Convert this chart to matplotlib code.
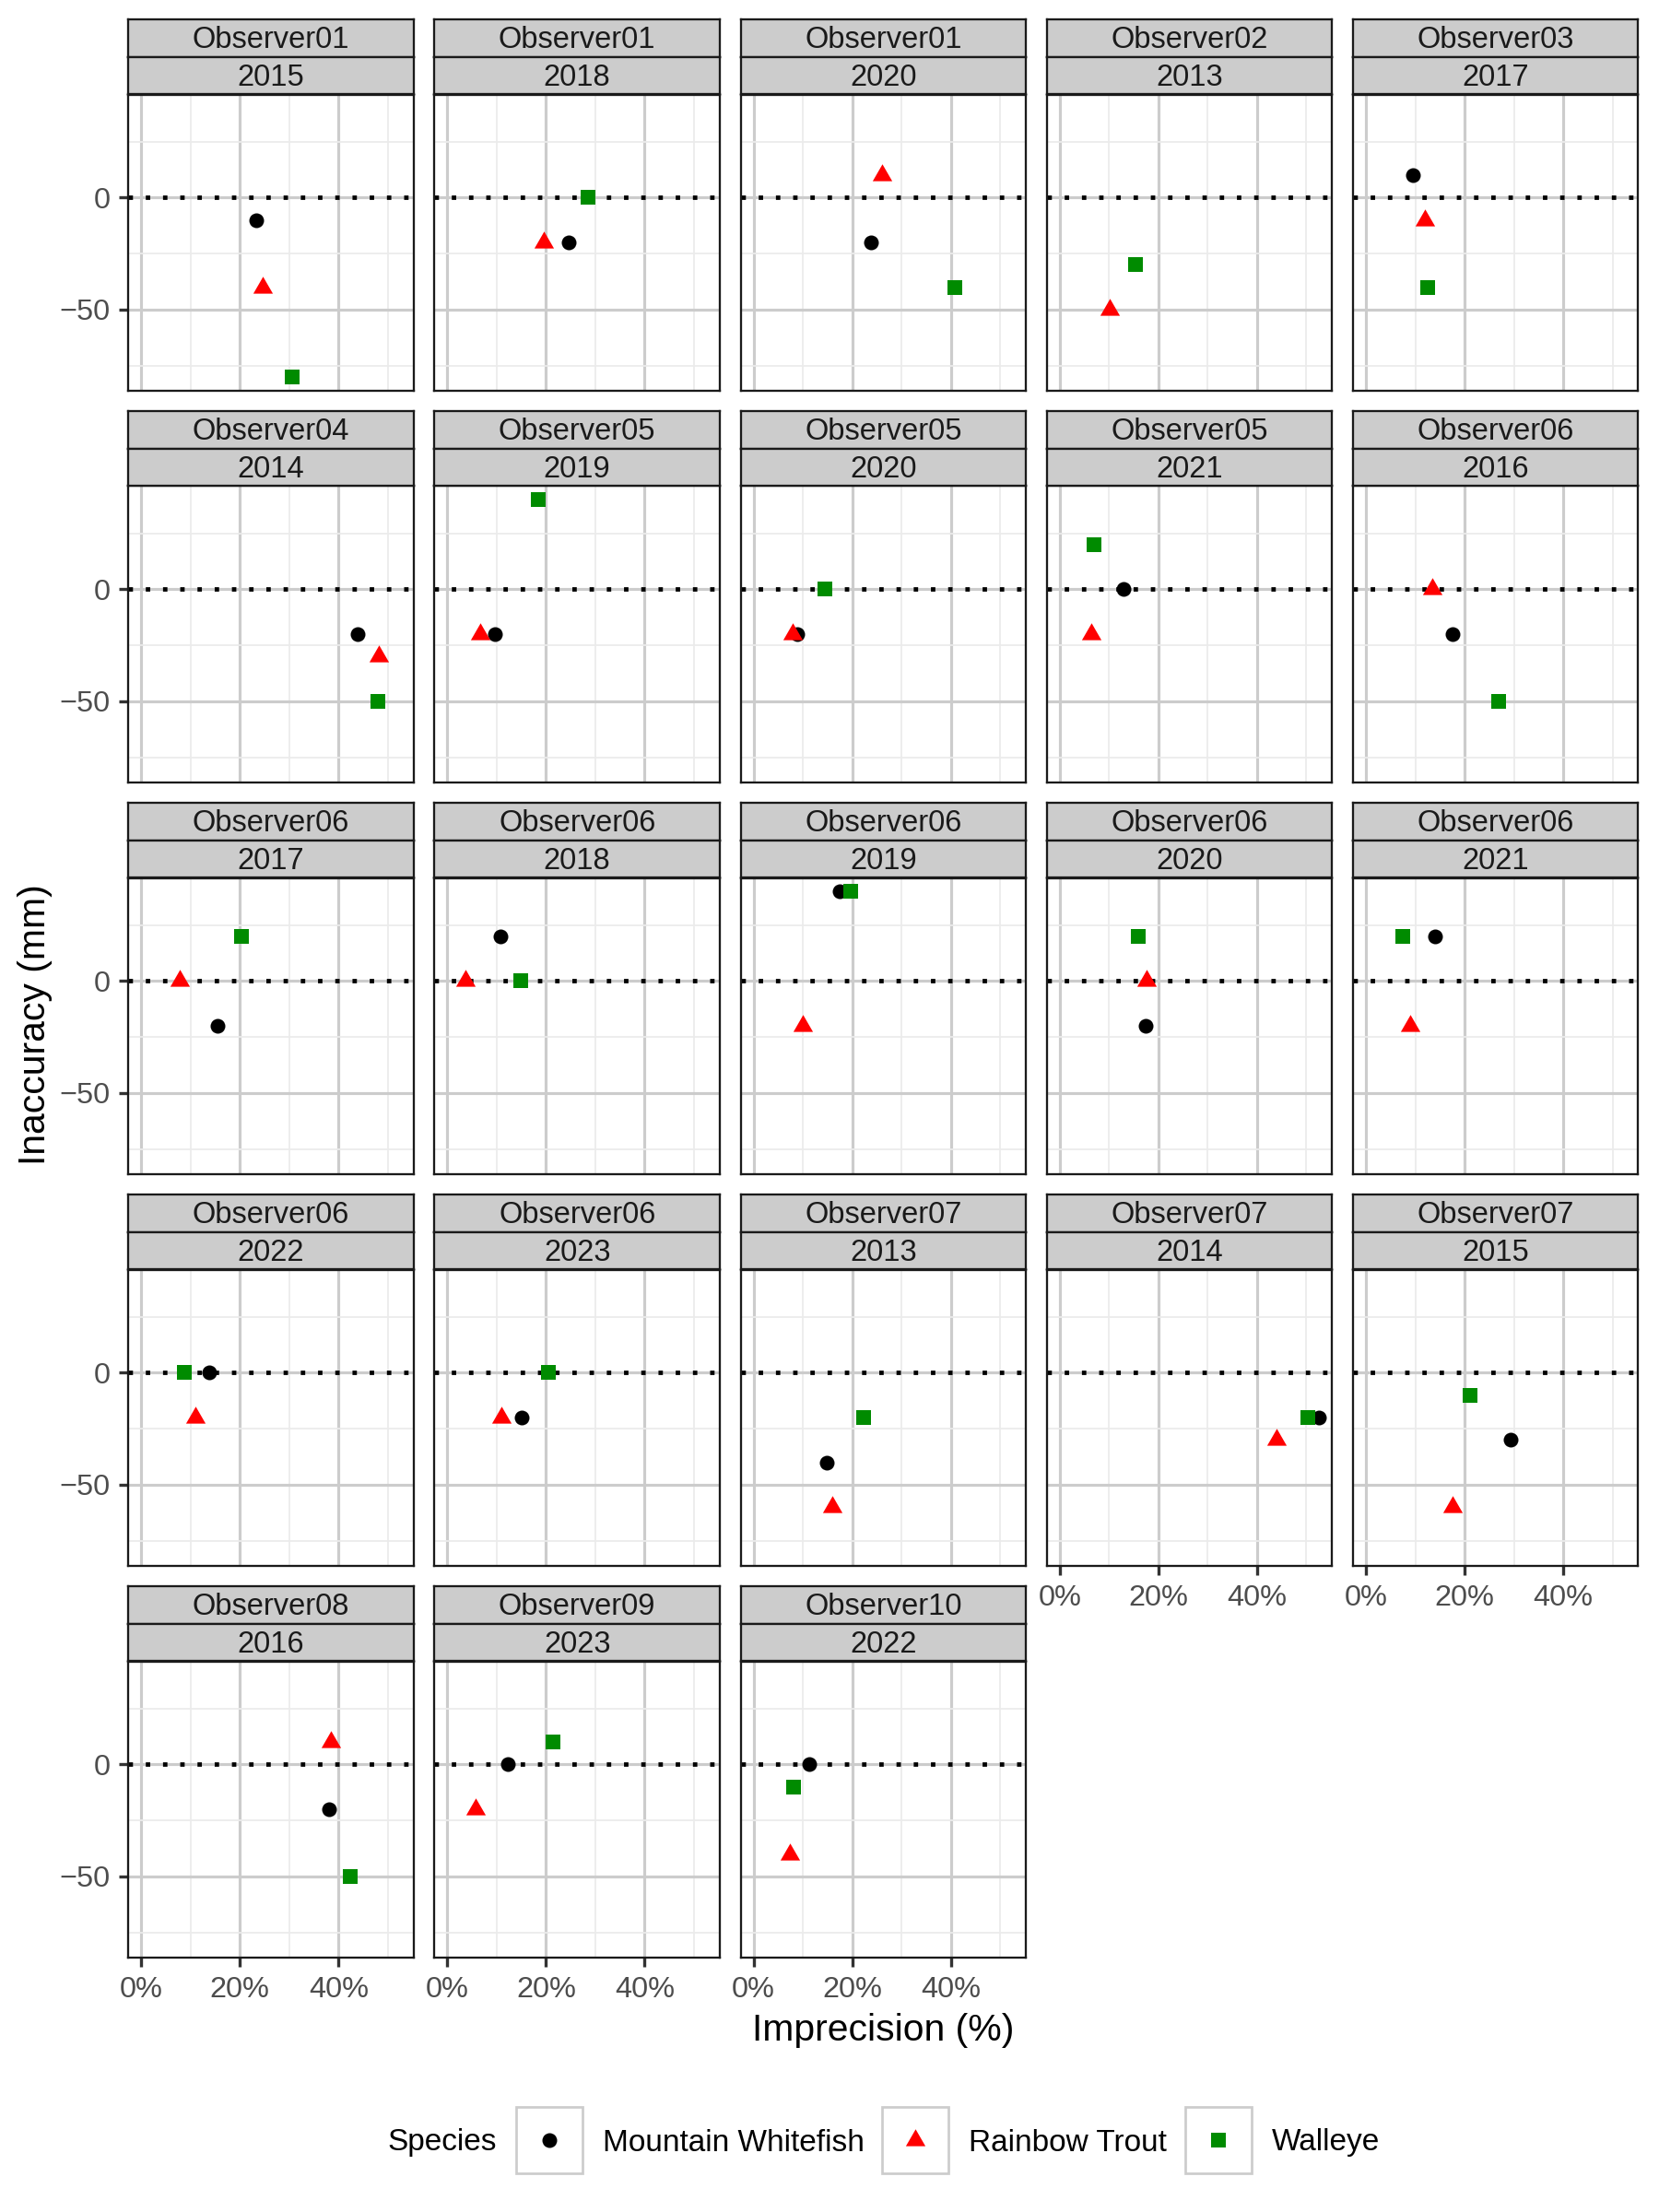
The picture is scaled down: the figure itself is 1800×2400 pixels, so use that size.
import numpy as np
import matplotlib
matplotlib.use('Agg')
import matplotlib.pyplot as plt
from matplotlib.path import Path
from matplotlib.patches import Rectangle
from matplotlib.ticker import PercentFormatter

plt.rcParams['font.family'] = ['Liberation Sans', 'DejaVu Sans']

# facets (observer / year), in facet_wrap order
observers = ['Observer01', 'Observer01', 'Observer01', 'Observer02', 'Observer03',
             'Observer04', 'Observer05', 'Observer05', 'Observer05', 'Observer06',
             'Observer06', 'Observer06', 'Observer06', 'Observer06', 'Observer06',
             'Observer06', 'Observer06', 'Observer07', 'Observer07', 'Observer07',
             'Observer08', 'Observer09', 'Observer10']
years = ['2015', '2018', '2020', '2013', '2017',
         '2014', '2019', '2020', '2021', '2016',
         '2017', '2018', '2019', '2020', '2021',
         '2022', '2023', '2013', '2014', '2015',
         '2016', '2023', '2022']

species = ['Mountain Whitefish', 'Rainbow Trout', 'Walleye']

# imprecision (fraction) and inaccuracy (mm) per facet
whitefish_x = [0.234, 0.245, 0.238, np.nan, 0.096, 0.439, 0.096, 0.089, 0.129, 0.175,
               0.155, 0.107, 0.174, 0.174, 0.140, 0.138, 0.151, 0.149, 0.526, 0.294,
               0.381, 0.122, 0.112]
whitefish_y = [-10, -20, -20, np.nan, 10, -20, -20, -20, 0, -20,
               -20, 20, 40, -20, 20, 0, -20, -40, -20, -30,
               -20, 0, 0]
trout_x = [0.247, 0.196, 0.261, 0.102, 0.120, 0.481, 0.066, 0.079, 0.063, 0.134,
           0.079, 0.036, 0.099, 0.176, 0.089, 0.110, 0.110, 0.159, 0.440, 0.176,
           0.385, 0.057, 0.073]
trout_y = [-40, -20, 10, -50, -10, -30, -20, -20, -20, 0,
           0, 0, -20, 0, -20, -20, -20, -60, -30, -60,
           10, -20, -40]
walleye_x = [0.307, 0.286, 0.408, 0.153, 0.125, 0.479, 0.184, 0.144, 0.069, 0.269,
             0.203, 0.148, 0.197, 0.160, 0.074, 0.087, 0.205, 0.224, 0.503, 0.212,
             0.424, 0.214, 0.082]
walleye_y = [-80, 0, -40, -30, -40, -50, 40, 0, 20, -50,
             20, 0, 40, 20, 20, 0, 0, -20, -20, -10,
             -50, 10, -10]

W, H = 1800, 2400
PT = 300 / 72  # px per point

def box(l, t, w, h):
    return [l / W, 1 - (t + h) / H, w / W, h / H]

# ggplot-like filled triangle (centroid at origin)
tri = Path([(-1, -0.577), (1, -0.577), (0, 1.155), (-1, -0.577)],
           [Path.MOVETO, Path.LINETO, Path.LINETO, Path.CLOSEPOLY])
styles = [
    dict(marker='o', color='black', ms=16 / PT),
    dict(marker=tri, color='#FF0000', ms=24.5 / PT),
    dict(marker='s', color='#008B00', ms=16 / PT),
]
series = [(whitefish_x, whitefish_y), (trout_x, trout_y), (walleye_x, walleye_y)]

fig = plt.figure(figsize=(6, 8), dpi=300)

PW, PH = 309.3, 321
for i, (obs, yr) in enumerate(zip(observers, years)):
    r, c = divmod(i, 5)
    left = 139.3 + 332.2 * c
    top = 102.5 + 425 * r

    ax = fig.add_axes(box(left, top, PW, PH))
    ax.set_xlim(-0.026, 0.552)
    ax.set_ylim(-86, 46)
    ax.set_xticks([0, 0.2, 0.4])
    ax.set_xticks([0.1, 0.3, 0.5], minor=True)
    ax.set_yticks([-50, 0])
    ax.set_yticks([-75, -25, 25], minor=True)
    ax.grid(which='major', color='#CCCCCC', lw=0.75)
    ax.grid(which='minor', color='#EBEBEB', lw=0.42)
    ax.set_axisbelow(True)
    # dotted reference line at zero
    ax.axhline(0, color='black', lw=1.15, ls=(0, (1.0, 2.9)), zorder=1.5)

    for (xs, ys), st, z in zip(series, styles, [3, 4, 5]):
        ax.plot(xs[i], ys[i], ls='none', marker=st['marker'], ms=st['ms'],
                color=st['color'], mew=0, zorder=z)

    for s in ax.spines.values():
        s.set_color('#1A1A1A')
        s.set_linewidth(0.55)

    show_x = (r == 4) or (r == 3 and c >= 3)
    show_y = (c == 0)
    ax.tick_params(which='minor', length=0)
    ax.tick_params(axis='x', which='major', labelbottom=show_x,
                   length=2.4 if show_x else 0, width=0.8, color='#333333',
                   labelsize=7.8, labelcolor='#4D4D4D', pad=2.6)
    ax.tick_params(axis='y', which='major', labelleft=show_y,
                   length=2.4 if show_y else 0, width=0.8, color='#333333',
                   labelsize=7.8, labelcolor='#4D4D4D', pad=2.4)
    ax.xaxis.set_major_formatter(PercentFormatter(1.0, decimals=0))

    # two stacked strips
    for k, label in enumerate([obs, yr]):
        sax = fig.add_axes(box(left, top - 81.2 + 40.5 * k, PW, 40.3))
        sax.set_facecolor('#CCCCCC')
        sax.set_xticks([])
        sax.set_yticks([])
        for s in sax.spines.values():
            s.set_color('#1A1A1A')
            s.set_linewidth(0.55)
        sax.text(0.5, 0.44, label, ha='center', va='center', fontsize=7.85,
                 color='#1A1A1A', transform=sax.transAxes)

# axis titles
fig.text(38 / W, 1 - 1112 / H, 'Inaccuracy (mm)', rotation=90, ha='center',
         va='center', fontsize=9.8)
fig.text(958 / W, 1 - 2203 / H, 'Imprecision (%)', ha='center', va='center',
         fontsize=9.8)

# legend drawn by hand, ggplot style
lax = fig.add_axes([0, 0, 1, 1])
lax.set_xlim(0, W)
lax.set_ylim(H, 0)
lax.axis('off')
lax.patch.set_alpha(0)
ly = 2322
lax.text(420, ly + 3, 'Species', ha='left', va='center', fontsize=8)
key_left = [559, 956, 1285]
text_left = [654, 1051, 1380]
for name, st, kl, tl in zip(species, styles, key_left, text_left):
    lax.add_patch(Rectangle((kl + 1.3, ly - 35.7), 71.4, 71.4, fill=False,
                            ec='#CCCCCC', lw=0.65))
    lax.plot(kl + 37, ly, ls='none', marker=st['marker'], ms=st['ms'],
             color=st['color'], mew=0)
    lax.text(tl, ly + 3, name, ha='left', va='center', fontsize=8)

fig.savefig('out.png', dpi=300, facecolor='white')
